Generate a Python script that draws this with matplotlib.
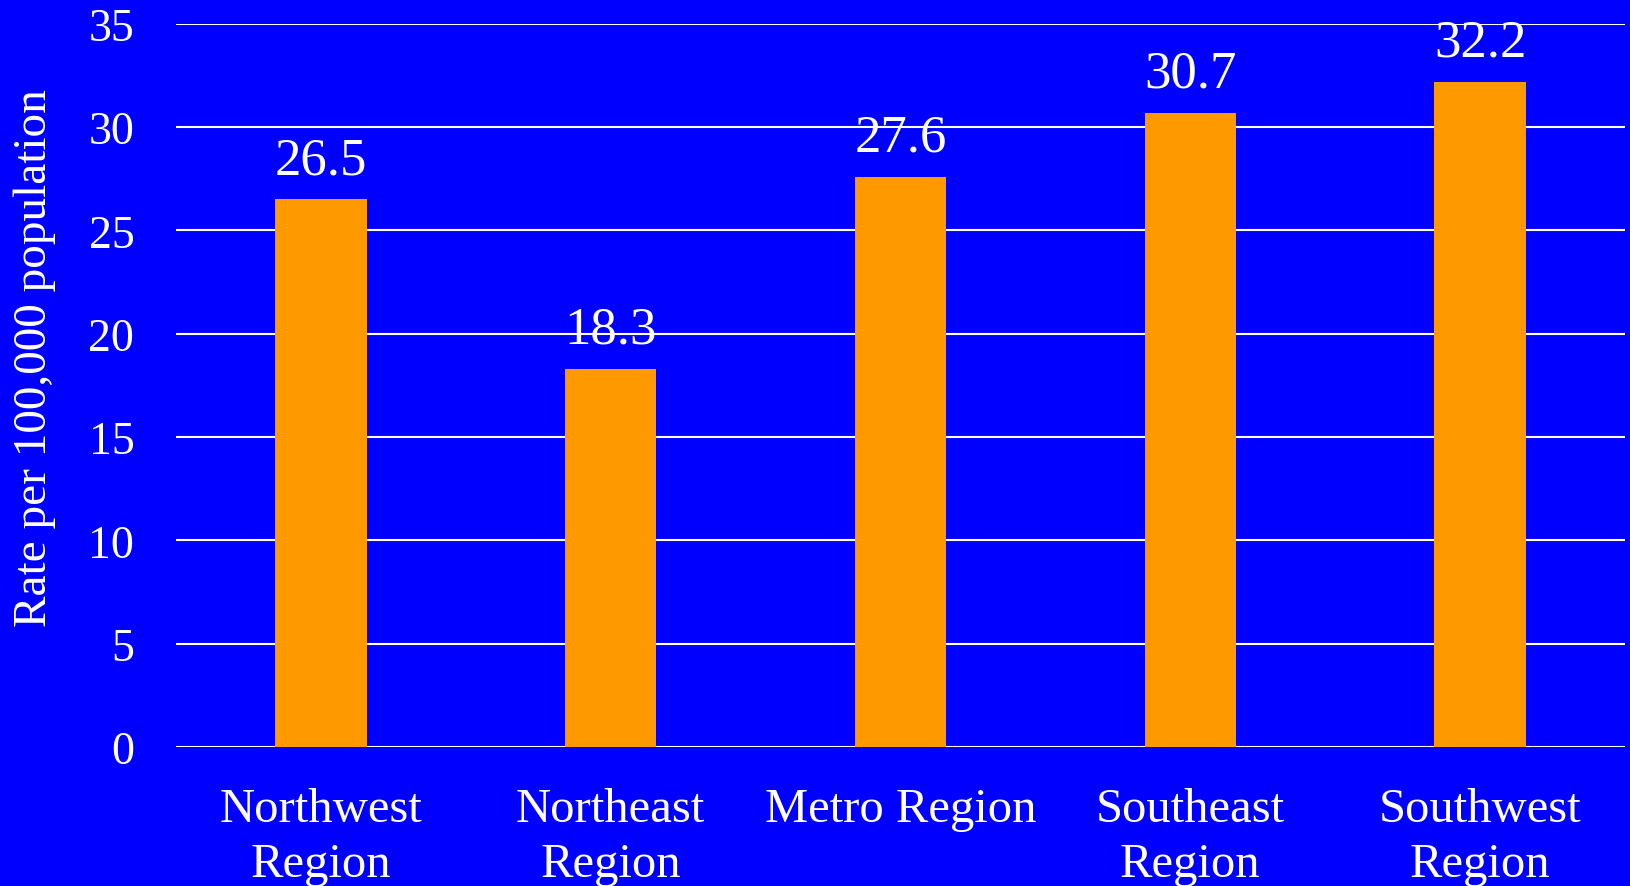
import numpy as np
import matplotlib
matplotlib.use("Agg")
from matplotlib import pyplot as plt

regions = ["Northwest\nRegion", "Northeast\nRegion", "Metro Region", "Southeast\nRegion", "Southwest\nRegion"]
rates = [26.5, 18.3, 27.6, 30.7, 32.2]
yticks = [0, 5, 10, 15, 20, 25, 30, 35]

blue = "#0000FF"
orange = "#FF9900"

plt.rcParams['font.family'] = ['Liberation Serif', 'DejaVu Serif']

fig = plt.figure(figsize=(16.3, 8.87), dpi=100, facecolor=blue)
ax = fig.add_axes([176 / 1630, 139 / 887, (1625 - 176) / 1630, (748 - 24.7) / 887])
ax.set_facecolor(blue)

x = np.arange(len(regions))
ax.set_axisbelow(True)
ax.yaxis.grid(True, color="white", linewidth=1.5)
bars = ax.bar(x, rates, width=0.315, color=orange, zorder=3)

for xi, v in zip(x, rates):
    ax.annotate(f"{v}", (xi, v), xytext=(0, 11), textcoords="offset points",
                ha="center", va="bottom", color="white", fontsize=38)

ax.set_xlim(-0.5, len(regions) - 0.5)
ax.set_ylim(0, 35)
ax.set_yticks(yticks)
ax.set_xticks(x)
ax.set_xticklabels(regions, linespacing=1.33)
ax.tick_params(axis="y", length=0, pad=30, labelsize=33, colors="white")
ax.tick_params(axis="x", length=0, pad=29, labelsize=35, colors="white")
for s in ax.spines.values():
    s.set_visible(False)

ax.set_ylabel("Rate per 100,000 population", color="white", fontsize=34)
ax.yaxis.set_label_coords((56 - 176) / 1449, 0.539)

fig.savefig("out.png", dpi=100, facecolor=blue)
